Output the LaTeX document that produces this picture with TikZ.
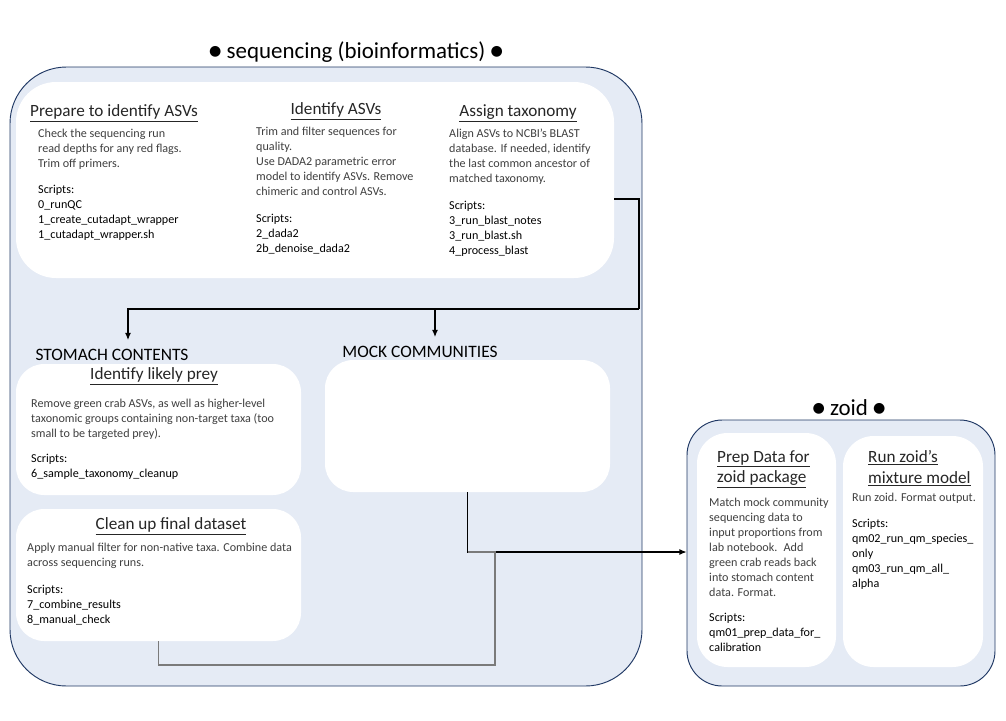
\documentclass[tikz,border=0pt]{standalone}
\usepackage{fontspec}
\setmainfont{Carlito}
\newfontfamily\dotfont{DejaVu Sans}
\usetikzlibrary{arrows.meta,fit,positioning}

\definecolor{seqfill}{HTML}{E5EBF5}
\definecolor{seqline}{HTML}{203864}
\definecolor{bodygray}{HTML}{3F3F3F}
\definecolor{headgray}{HTML}{262626}
\definecolor{linkgray}{HTML}{7A7A7A}

\newcommand{\blob}{\raisebox{2.5pt}{\dotfont\fontsize{12}{12}\selectfont●}}

\tikzset{
  group/.style={draw=seqline, fill=seqfill, line width=0.8pt, inner sep=0pt},
  card/.style={fill=white, inner sep=0pt},
  head/.style={font=\fontsize{14.6}{17.8}\selectfont, text=headgray, align=left, inner sep=0pt},
  body/.style={font=\fontsize{10.3}{12.75}\selectfont, text=bodygray, align=left, inner sep=0pt, anchor=north west},
  scripts/.style={font=\fontsize{10.3}{12.75}\selectfont, text=black, align=left, inner sep=0pt, anchor=north west},
  title/.style={font=\fontsize{19.5}{22}\selectfont, inner sep=0pt},
  stream/.style={font=\fontsize{14.8}{16}\selectfont, inner sep=0pt},
  link/.style={line width=0.9pt},
  flow/.style={link, -{Latex[length=6pt,width=5pt]}},
  mergeline/.style={line width=1.5pt, draw=linkgray},
}

\begin{document}
\begin{tikzpicture}[x=0.85pt, y=-0.85pt]
  \useasboundingbox (0,0) rectangle (1006,720);

  % sequencing (bioinformatics)
  \node[group, rounded corners=48pt, fit={(10,67) (642,686)}] (seq) {};
  \node[title] (seqtitle) at (356,52) {\blob\ sequencing (bioinformatics) \blob};

  % upstream steps
  \node[card, rounded corners=34pt, fit={(16,82) (614,278)}] (top) {};

  \node[head] (qchead) at (114,113) {\underline{Prepare to identify ASVs}};
  \node[body] (qctext) at (38,129) {Check the sequencing run\\read depths for any red flags.\\Trim off primers.};
  \node[scripts] (qcscripts) at (38,185) {Scripts:\\0\_runQC\\1\_create\_cutadapt\_wrapper\\1\_cutadapt\_wrapper.sh};

  \node[head] (asvhead) at (336,111) {\underline{Identify ASVs}};
  \node[body] (asvtext) at (256,127) {Trim and filter sequences for\\quality.\\Use DADA2 parametric error\\model to identify ASVs. Remove\\chimeric and control ASVs.};
  \node[scripts] (asvscripts) at (256,214) {Scripts:\\2\_dada2\\2b\_denoise\_dada2};

  \node[head] (taxhead) at (518,113) {\underline{Assign taxonomy}};
  \node[body] (taxtext) at (449,129) {Align ASVs to NCBI’s BLAST\\database. If needed, identify\\the last common ancestor of\\matched taxonomy.};
  \node[scripts] (taxscripts) at (449,201) {Scripts:\\3\_run\_blast\_notes\\3\_run\_blast.sh\\4\_process\_blast};

  % the two streams
  \node[stream] (stomach) at (112,355) {STOMACH CONTENTS};
  \node[stream] (mock) at (420,352) {MOCK COMMUNITIES};

  \node[card, rounded corners=24pt, fit={(16,364) (301,495)}] (prey) {};
  \node[card, rounded corners=24pt, fit={(325,360) (610,492)}] (mockbox) {};
  \node[card, rounded corners=24pt, fit={(16,509) (301,641)}] (clean) {};

  \node[head] (preyhead) at (154,376) {\underline{Identify likely prey}};
  \node[body] (preytext) at (31,399) {Remove green crab ASVs, as well as higher-level\\taxonomic groups containing non-target taxa (too\\small to be targeted prey).};
  \node[scripts] (preyscripts) at (31,454) {Scripts:\\6\_sample\_taxonomy\_cleanup};

  \node[head] (cleanhead) at (171,526) {\underline{Clean up final dataset}};
  \node[body] (cleantext) at (27,543) {Apply manual filter for non-native taxa. Combine data\\across sequencing runs.};
  \node[scripts] (cleanscripts) at (27,585) {Scripts:\\7\_combine\_results\\8\_manual\_check};

  % zoid
  \node[group, rounded corners=30pt, fit={(687,420) (995,686)}] (zoid) {};
  \node[title] (zoidtitle) at (849,408) {\blob\ zoid \blob};

  \node[card, rounded corners=26pt, fit={(697,433) (836,667)}] (prep) {};
  \node[card, rounded corners=26pt, fit={(843,436) (983,667)}] (run) {};

  \node[head, anchor=north west] (prephead) at (717,450) {\underline{Prep Data for}\\\underline{zoid package}};
  \node[body] (preptext) at (709,498) {Match mock community\\sequencing data to\\input proportions from\\lab notebook.~ Add\\green crab reads back\\into stomach content\\data. Format.};
  \node[scripts] (prepscripts) at (709,613) {Scripts:\\qm01\_prep\_data\_for\_\\calibration};

  \node[head, anchor=north west] (runhead) at (868,450) {\underline{Run zoid’s}\\\underline{mixture model}};
  \node[body] (runtext) at (852,493) {Run zoid. Format output.};
  \node[scripts] (runscripts) at (852,519) {Scripts:\\qm02\_run\_qm\_species\_\\only\\qm03\_run\_qm\_all\_\\alpha};

  % connectors
  \coordinate (split) at (639,309);
  \coordinate (stomachin) at (128,340);
  \coordinate (mockin) at (435,337);
  \coordinate (merge) at (495,552);

  \draw[link] (top.east |- 0,199) -| (split);
  \draw[flow] (split) -| (stomachin);
  \draw[flow] (split -| mockin) -- (mockin);
  \draw[flow] (mockbox.south) |- (zoid.west |- merge);
  \draw[mergeline] (clean.south) -- ++(0,24) -| (merge) -- (mockbox.south |- merge);

\end{tikzpicture}
\end{document}
